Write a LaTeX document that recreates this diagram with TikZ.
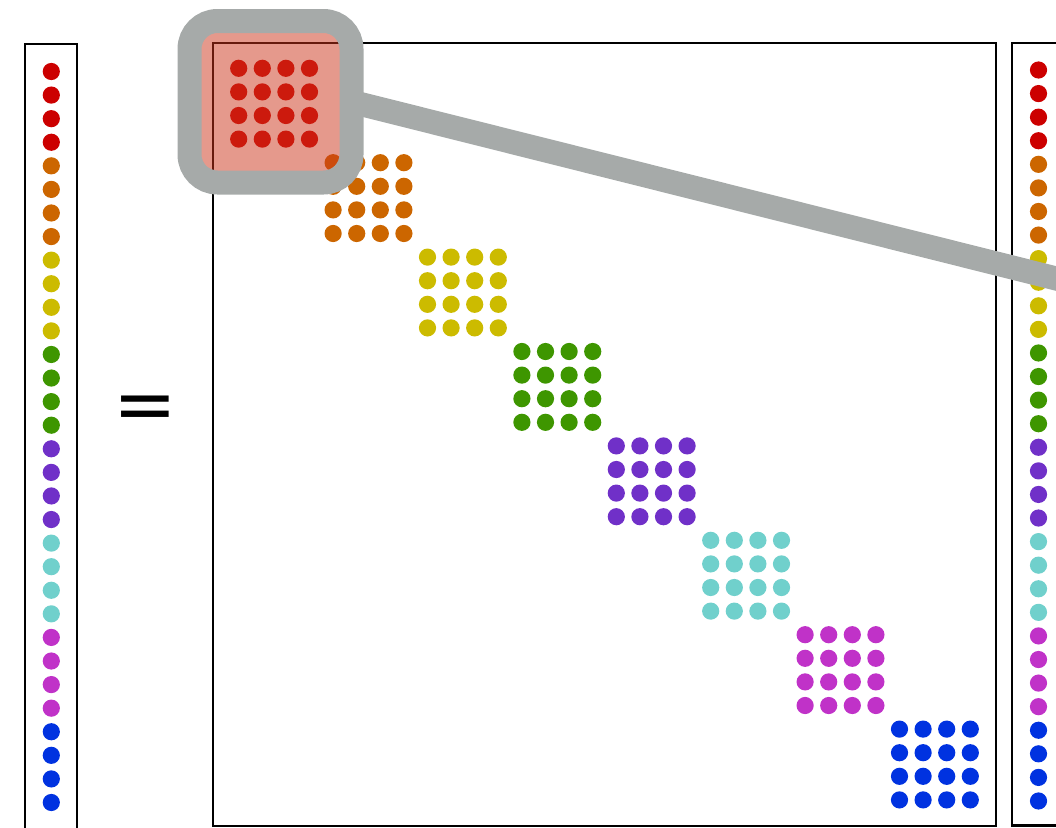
\documentclass[tikz,border=0pt]{standalone}
\usepackage{fontspec}
\newfontfamily\eqfont{DejaVu Sans}
\definecolor{cred}{RGB}{204,0,0}
\definecolor{corange}{RGB}{204,102,0}
\definecolor{cyellow}{RGB}{204,187,0}
\definecolor{cgreen}{RGB}{62,150,0}
\definecolor{cpurple}{RGB}{112,48,200}
\definecolor{ccyan}{RGB}{112,208,204}
\definecolor{cmagenta}{RGB}{192,50,200}
\definecolor{cblue}{RGB}{0,50,224}
\definecolor{hlgray}{RGB}{166,170,169}
\definecolor{salmon}{RGB}{204,52,26}
\begin{document}
\begin{tikzpicture}[x=1pt,y=-1pt,
  frame/.style={draw=black,line width=2.6pt},
  zoomline/.style={draw=hlgray,line width=24pt},
  hlbox/.style={draw=hlgray,line width=24pt,fill=salmon,fill opacity=0.5,
    rounded corners=28pt,minimum width=162pt,minimum height=161.5pt,
    inner sep=0pt,outer sep=0pt}]
\useasboundingbox (0,0) rectangle (1056,827);
\clip (0,0) rectangle (1056,827);
\def\clist{cred,corange,cyellow,cgreen,cpurple,ccyan,cmagenta,cblue}
% matrix
\draw[frame] (213,43) rectangle (996,826);
\foreach \c [count=\b from 0] in \clist {
  \foreach \i in {0,...,3} {
    \foreach \j in {0,...,3} {
      \fill[\c] ({238.7+23.6*(4*\b+\i)},{68.3+23.6*(4*\b+\j)}) circle (8.6);
    }
  }
}
% left vector
\draw[frame] (25,830) -- (25,44) -- (77,44) -- (77,830);
\foreach \c [count=\b from 0] in \clist {
  \foreach \i in {0,...,3} {
    \fill[\c] (51.3,{71.5+23.58*(4*\b+\i)}) circle (8.6);
  }
}
% right vector
\draw[frame] (1070,825.5) -- (1012,825.5) -- (1012,43) -- (1070,43);
\foreach \c [count=\b from 0] in \clist {
  \foreach \i in {0,...,3} {
    \fill[\c] (1038.5,{70+23.58*(4*\b+\i)}) circle (8.6);
  }
}
% equals sign
\node[inner sep=0pt] (eq) at (145.5,413) {\eqfont\fontsize{76}{76}\selectfont =};
% highlight
\node[hlbox] (hl) at (270.5,101.75) {};
\coordinate (zoomend) at (1110,292);
\draw[zoomline] (hl.east) -- (zoomend);
\end{tikzpicture}
\end{document}
